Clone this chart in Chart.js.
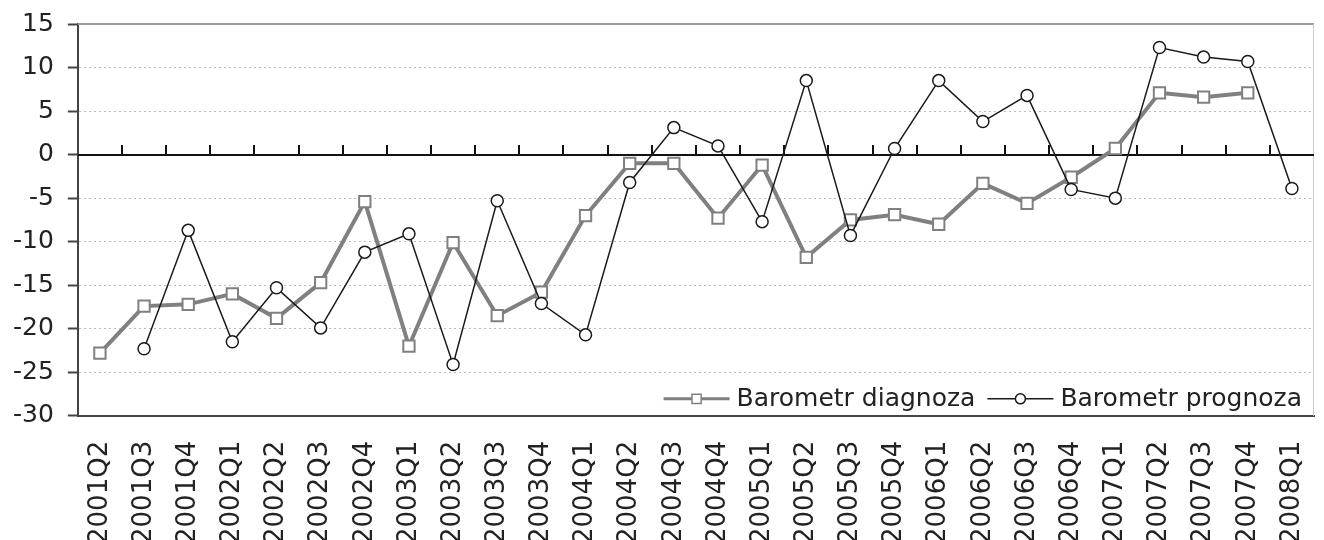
<!DOCTYPE html>
<html lang="pl">
<head>
    <meta charset="UTF-8">
    <title>Barometr diagnoza / prognoza</title>
    <script src="https://cdn.jsdelivr.net/npm/chart.js@4.4.1/dist/chart.umd.min.js"></script>
    <style>
        html, body { margin: 0; padding: 0; background: #fff; overflow: hidden; }
        .chartbox { width: 1324px; height: 540px; position: relative; }
    </style>
</head>
<body>
<div class="chartbox">
    <canvas id="myChart"></canvas>
</div>
<script>
// dane
var quarters = ['2001Q2', '2001Q3', '2001Q4', '2002Q1', '2002Q2', '2002Q3', '2002Q4',
    '2003Q1', '2003Q2', '2003Q3', '2003Q4', '2004Q1', '2004Q2', '2004Q3', '2004Q4',
    '2005Q1', '2005Q2', '2005Q3', '2005Q4', '2006Q1', '2006Q2', '2006Q3', '2006Q4',
    '2007Q1', '2007Q2', '2007Q3', '2007Q4', '2008Q1'];

var diagnoza = [-22.8, -17.4, -17.2, -16.0, -18.8, -14.7, -5.4, -22.0, -10.1, -18.5,
    -15.8, -7.0, -1.0, -1.0, -7.3, -1.2, -11.8, -7.5, -6.9, -8.0, -3.3, -5.6, -2.6,
    0.7, 7.1, 6.6, 7.1, null];

var prognoza = [null, -22.3, -8.7, -21.5, -15.3, -19.9, -11.2, -9.1, -24.1, -5.3,
    -17.1, -20.7, -3.2, 3.1, 1.0, -7.7, 8.5, -9.3, 0.7, 8.5, 3.8, 6.8, -4.0, -5.0,
    12.3, 11.2, 10.7, -3.9];

var yTicks = { min: -30, max: 15, step: 5 };

var axisColor = '#444';
var textColor = '#222';

Chart.defaults.font.family = '"DejaVu Sans", Verdana, sans-serif';
Chart.defaults.font.size = 25;
Chart.defaults.color = textColor;

// ramka, linia zera z kreskami i legenda w srodku wykresu
var frameAndZero = {
    id: 'frameAndZero',
    beforeDatasetsDraw: function(chart) {
        var ctx = chart.ctx, area = chart.chartArea;
        var x = chart.scales.x, y = chart.scales.y;
        ctx.save();
        ctx.strokeStyle = '#999';
        ctx.lineWidth = 2;
        ctx.beginPath();
        ctx.moveTo(area.left, area.top);
        ctx.lineTo(area.right, area.top);
        ctx.stroke();
        ctx.strokeStyle = '#ccc';
        ctx.lineWidth = 1;
        ctx.beginPath();
        ctx.moveTo(area.right - 0.5, area.top);
        ctx.lineTo(area.right - 0.5, area.bottom);
        ctx.stroke();

        var y0 = Math.round(y.getPixelForValue(0));
        ctx.strokeStyle = '#111';
        ctx.lineWidth = 2;
        ctx.beginPath();
        ctx.moveTo(area.left, y0);
        ctx.lineTo(area.right, y0);
        ctx.stroke();
        ctx.beginPath();
        for (var i = 1; i < quarters.length; i++) {
            var bx = Math.round((x.getPixelForValue(i - 1) + x.getPixelForValue(i)) / 2);
            ctx.moveTo(bx, y0);
            ctx.lineTo(bx, y0 - 10);
        }
        ctx.stroke();
        ctx.restore();
    },
    afterDatasetsDraw: function(chart) {
        var ctx = chart.ctx, area = chart.chartArea;
        var sets = chart.data.datasets;
        ctx.save();
        ctx.font = '25px "DejaVu Sans", Verdana, sans-serif';
        var lineLen = 66, gapText = 7, gapItem = 12, padR = 12;
        var widths = sets.map(function(d) { return ctx.measureText(d.label).width; });
        var total = padR;
        for (var i = 0; i < sets.length; i++) total += lineLen + gapText + widths[i] + (i > 0 ? gapItem : 0);
        var left = area.right - total - 8;
        var cy = area.bottom - 17;
        ctx.fillStyle = '#fff';
        ctx.fillRect(left, cy - 20, area.right - left - 1, area.bottom - (cy - 20) - 1);

        var cx = left + 8;
        for (var j = 0; j < sets.length; j++) {
            var d = sets[j];
            if (j > 0) cx += gapItem;
            ctx.strokeStyle = d.borderColor;
            ctx.lineWidth = d.legendLine;
            ctx.beginPath();
            ctx.moveTo(cx, cy);
            ctx.lineTo(cx + lineLen, cy);
            ctx.stroke();
            ctx.fillStyle = '#fff';
            ctx.strokeStyle = d.pointBorderColor;
            ctx.lineWidth = 1.5;
            Chart.helpers.drawPoint(ctx, {
                pointStyle: d.pointStyle,
                radius: d.legendRadius,
                borderWidth: 1.5
            }, cx + lineLen / 2, cy);
            cx += lineLen + gapText;
            ctx.fillStyle = textColor;
            ctx.textBaseline = 'middle';
            ctx.textAlign = 'left';
            ctx.fillText(d.label, cx, cy + 1);
            cx += widths[j];
        }
        ctx.restore();
    }
};

var ctx = document.getElementById('myChart').getContext('2d');
var myChart = new Chart(ctx, {
    type: 'line',
    data: {
        labels: quarters,
        datasets: [{
            label: 'Barometr diagnoza',
            data: diagnoza,
            borderColor: '#808080',
            borderWidth: 4,
            pointStyle: 'rect',
            pointRadius: 8,
            pointBorderWidth: 2,
            pointBackgroundColor: '#fff',
            pointBorderColor: '#808080',
            legendLine: 3,
            legendRadius: 6.5,
            tension: 0,
            spanGaps: false,
            order: 2
        }, {
            label: 'Barometr prognoza',
            data: prognoza,
            borderColor: '#1a1a1a',
            borderWidth: 1.5,
            pointStyle: 'circle',
            pointRadius: 6,
            pointBorderWidth: 1.5,
            pointBackgroundColor: '#fff',
            pointBorderColor: '#1a1a1a',
            legendLine: 1.5,
            legendRadius: 5,
            tension: 0,
            order: 1
        }]
    },
    options: {
        responsive: true,
        maintainAspectRatio: false,
        animation: false,
        layout: { padding: { left: -1, top: 24, right: -9, bottom: -29 } },
        plugins: {
            legend: { display: false },
            tooltip: { enabled: false }
        },
        scales: {
            x: {
                type: 'category',
                offset: true,
                grid: { display: false, drawTicks: false },
                border: { display: true, color: axisColor, width: 2 },
                ticks: {
                    autoSkip: false,
                    minRotation: 90,
                    maxRotation: 90,
                    padding: 25,
                    color: textColor,
                    font: { size: 26 }
                },
                afterFit: function(scale) {
                    scale.paddingLeft = 0;
                    scale.paddingRight = 0;
                }
            },
            y: {
                min: yTicks.min,
                max: yTicks.max,
                grid: {
                    color: function(c) {
                        var v = c.tick ? c.tick.value : null;
                        if (v === 0 || v === yTicks.max || v === yTicks.min) return 'transparent';
                        return '#bbb';
                    },
                    lineWidth: 1,
                    tickLength: 10,
                    tickColor: axisColor,
                    tickWidth: 2
                },
                border: { display: true, color: axisColor, width: 2, dash: [2, 3] },
                ticks: {
                    stepSize: yTicks.step,
                    padding: 14,
                    color: textColor
                },
                afterFit: function(scale) {
                    scale.paddingTop = 0;
                    scale.paddingBottom = 0;
                }
            }
        }
    },
    plugins: [frameAndZero]
});
</script>
</body>
</html>
